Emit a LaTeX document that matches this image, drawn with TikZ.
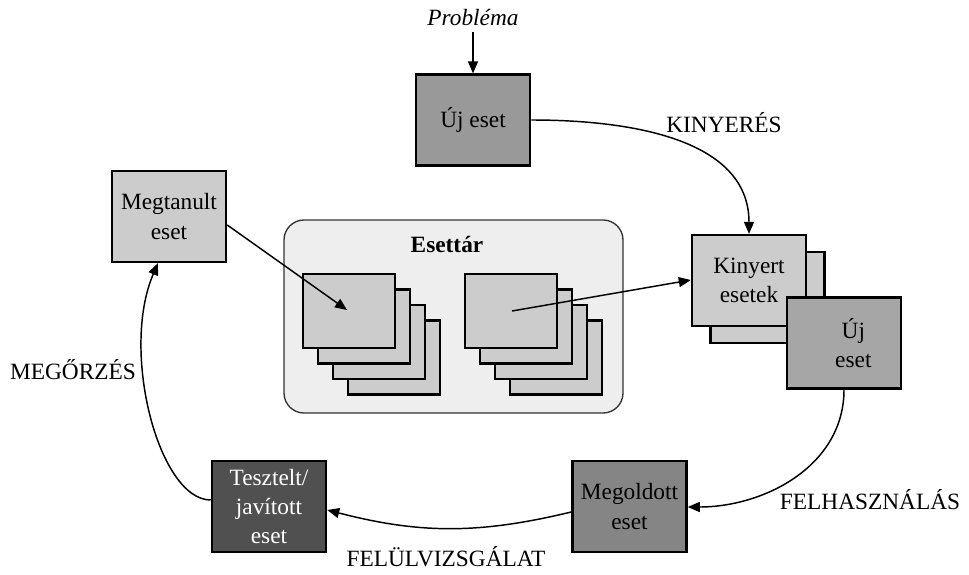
\documentclass[tikz,border=0pt]{standalone}
\usepackage{fontspec}
\setmainfont{Liberation Serif}
\usetikzlibrary{arrows.meta}
\definecolor{cBg}{HTML}{EEEEEE}
\definecolor{cLight}{HTML}{CCCCCC}
\definecolor{cMid}{HTML}{999999}
\definecolor{cMid2}{HTML}{A6A6A6}
\definecolor{cDark}{HTML}{858585}
\definecolor{cDarker}{HTML}{505050}
\tikzset{
  box/.style={draw=black, line width=1.9pt, minimum width=85.5pt, minimum height=68pt, align=center, inner sep=0pt, font=\fontsize{17.5}{22}\selectfont},
  card/.style={draw=black, line width=1.6pt, fill=cLight, minimum width=69pt, minimum height=55.5pt, inner sep=0pt},
  conn/.style={line width=1.1pt, -{Triangle[length=9pt,width=7.5pt]}},
  lbl/.style={font=\fontsize{17.5}{22}\selectfont, inner sep=0pt}
}
\begin{document}
\begin{tikzpicture}[x=0.75pt,y=-0.75pt]
\useasboundingbox (0,0) rectangle (969,574);
% store
\node[draw=black!80, line width=1pt, fill=cBg, rounded corners=15pt, minimum width=254.25pt, minimum height=144.75pt] (store) at (453.5,316.5) {};
\node[font=\fontsize{17.5}{22}\selectfont\bfseries] (storetitle) at (447,245) {Esettár};
% left stack
\foreach \i in {3,2,1} {
  \node[card] (l\i) at ({349+15*\i},{311+15.5*\i}) {};
}
\node[card] (l0) at (349,311) {};
\coordinate (lc) at (347,310);
% right stack
\foreach \i in {3,2,1} {
  \node[card] (r\i) at ({511+15*\i},{311+15.5*\i}) {};
}
\node[card] (r0) at (511,311) {};
\coordinate (rc) at (512,311);
% boxes
\node[lbl, font=\fontsize{17.5}{22}\selectfont\itshape] (prob) at (473,18) {Probléma};
\node[box, fill=cMid] (uj) at (473,120) {Új eset};
\node[box, fill=cLight] (meg) at (169,216.5) {Megtanult\\eset};
\node[box, fill=cLight] (kinb) at (767.5,297.5) {};
\node[box, fill=cLight] (kin) at (749,280.5) {Kinyert\\esetek};
\node[box, fill=cMid2] (uj2) at (844,343) {\hspace*{14pt}Új\\\hspace*{14pt}eset};
\node[box, fill=cDark] (mo) at (629.5,506.5) {Megoldott\\eset};
\node[box, fill=cDarker, text=white] (te) at (269,506.5) {Tesztelt/\\javított\\eset};
% labels
\node[lbl] (lk) at (724,123) {KINYERÉS};
\node[lbl] (lf) at (870,500) {FELHASZNÁLÁS};
\node[lbl] (lv) at (446,557) {FELÜLVIZSGÁLAT};
\node[lbl] (lm) at (73,370) {MEGŐRZÉS};
% connectors
\draw[conn] ([yshift=-4pt]prob.south -| uj.north) -- (uj.north);
\draw[conn] (uj.east |- 0,120) to[out=0, in=90] (kin.north);
\draw[conn] (meg.east |- 0,225) -- (lc);
\draw[conn] (rc) -- (kin.west |- 0,280);
\draw[conn] (uj2.south) to[out=-90, in=0] (mo.east |- 0,507);
\draw[conn] (mo.west |- 0,512) to[bend left=14] (te.east |- 0,510);
\draw[conn] (te.west |- 0,500) .. controls +(-52,0) and +(-38,88) .. (meg.south -| 158,0);
\end{tikzpicture}
\end{document}
